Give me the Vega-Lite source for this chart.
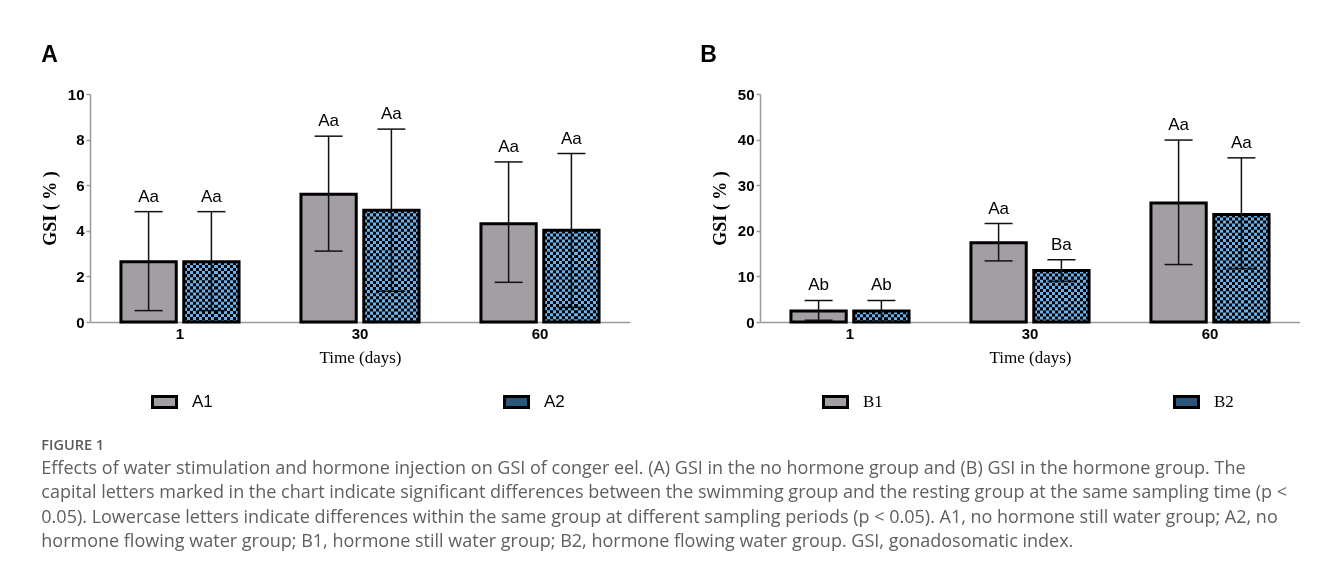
{
  "$schema": "https://vega.github.io/schema/vega-lite/v6.json",
  "background": "white",
  "padding": {"left": 41, "top": 44, "right": 0, "bottom": 0},
  "datasets": {
    "a": [
      {"day": "1", "group": "A1", "mean": 2.64, "lower": 0.5, "upper": 4.84, "label": "Aa"},
      {"day": "1", "group": "A2", "mean": 2.64, "lower": 0.5, "upper": 4.84, "label": "Aa"},
      {"day": "30", "group": "A1", "mean": 5.6, "lower": 3.11, "upper": 8.15, "label": "Aa"},
      {"day": "30", "group": "A2", "mean": 4.9, "lower": 1.35, "upper": 8.46, "label": "Aa"},
      {"day": "60", "group": "A1", "mean": 4.31, "lower": 1.74, "upper": 7.02, "label": "Aa"},
      {"day": "60", "group": "A2", "mean": 4.02, "lower": 0.64, "upper": 7.39, "label": "Aa"}
    ],
    "b": [
      {"day": "1", "group": "B1", "mean": 2.4, "lower": 0.36, "upper": 4.74, "label": "Ab"},
      {"day": "1", "group": "B2", "mean": 2.4, "lower": 0.1, "upper": 4.74, "label": "Ab"},
      {"day": "30", "group": "B1", "mean": 17.4, "lower": 13.4, "upper": 21.6, "label": "Aa"},
      {"day": "30", "group": "B2", "mean": 11.3, "lower": 8.95, "upper": 13.65, "label": "Ba"},
      {"day": "60", "group": "B1", "mean": 26.1, "lower": 12.6, "upper": 39.9, "label": "Aa"},
      {"day": "60", "group": "B2", "mean": 23.6, "lower": 11.7, "upper": 36.0, "label": "Aa"}
    ]
  },
  "title": {
    "text": "FIGURE 1",
    "orient": "bottom",
    "anchor": "start",
    "frame": "bounds",
    "offset": 25,
    "font": "Open Sans",
    "fontSize": 14.5,
    "fontWeight": 600,
    "color": "#5a5a5a",
    "subtitle": [
      "Effects of water stimulation and hormone injection on GSI of conger eel. (A) GSI in the no hormone group and (B) GSI in the hormone group. The",
      "capital letters marked in the chart indicate significant differences between the swimming group and the resting group at the same sampling time (p <",
      "0.05). Lowercase letters indicate differences within the same group at different sampling periods (p < 0.05). A1, no hormone still water group; A2, no",
      "hormone flowing water group; B1, hormone still water group; B2, hormone flowing water group. GSI, gonadosomatic index."
    ],
    "subtitleFont": "Open Sans",
    "subtitleFontSize": 18,
    "subtitleColor": "#5f5f5f",
    "subtitleLineHeight": 24.5,
    "subtitlePadding": 6
  },
  "spacing": 70,
  "resolve": {"scale": {"xOffset": "independent", "fill": "independent"}, "legend": {"fill": "independent"}},
  "config": {
    "view": {"stroke": null},
    "axisY": {
      "domainColor": "#9a9a9a", "domainWidth": 1.5, "tickColor": "#9a9a9a", "tickSize": 4, "tickWidth": 1.5,
      "labelFont": "Liberation Sans", "labelFontWeight": "bold", "labelFontSize": 15, "labelColor": "black", "labelPadding": 2,
      "grid": false, "titleFont": "Liberation Serif", "titleFontWeight": "bold", "titleFontSize": 18, "titleColor": "black", "titlePadding": 8
    },
    "axisX": {
      "domainColor": "#9a9a9a", "domainWidth": 1.5, "ticks": false, "labelAngle": 0,
      "labelFont": "Liberation Sans", "labelFontWeight": "bold", "labelFontSize": 15, "labelColor": "black", "labelPadding": 4,
      "grid": false, "titleFont": "Liberation Serif", "titleFontWeight": "normal", "titleFontSize": 17, "titleColor": "black", "titlePadding": 8
    },
    "legend": {
      "orient": "none", "direction": "horizontal", "title": null, "legendX": 61, "legendY": 294,
      "symbolType": "M-1,-0.46L1,-0.46L1,0.46L-1,0.46Z", "symbolSize": 576,
      "symbolStrokeColor": "black", "symbolStrokeWidth": 3, "symbolOpacity": 1,
      "labelFontSize": 17, "labelColor": "black", "labelOffset": 14, "columnPadding": 285
    }
  },
  "hconcat": [
    {
      "width": 540, "height": 228,
      "title": {"text": "A", "anchor": "start", "frame": "bounds", "font": "Liberation Sans", "fontSize": 23, "fontWeight": "bold", "color": "black", "offset": 20},
      "data": {"name": "a"},
      "encoding": {
        "x": {"field": "day", "type": "nominal", "sort": ["1", "30", "60"], "title": "Time (days)", "scale": {"paddingInner": 0.344, "paddingOuter": 0.172}},
        "xOffset": {"field": "group", "type": "nominal", "scale": {"paddingInner": 0.12, "paddingOuter": 0}}
      },
      "layer": [
        {
          "mark": {"type": "bar"},
          "encoding": {
            "y": {"field": "mean", "type": "quantitative", "title": "GSI ( % )", "scale": {"domain": [0, 10]}, "axis": {"values": [0, 2, 4, 6, 8, 10]}},
            "fill": {
              "field": "group", "type": "nominal",
              "scale": {"domain": ["A1", "A2"], "range": ["#a39ea4", "#2b5679"]},
              "legend": {"labelFont": "Liberation Sans"}
            }
          }
        },
        {
          "transform": [{"filter": "datum.group == 'A2'"}],
          "mark": {"type": "bar", "fill": {"gradient": "linear", "x1": 0, "y1": 0, "x2": 1, "y2": 0, "stops": [
                {"offset": 0, "color": "#6bb0e8"}, {"offset": 0.0556, "color": "#6bb0e8"},
                {"offset": 0.0556, "color": "#000000"}, {"offset": 0.1111, "color": "#000000"},
                {"offset": 0.1111, "color": "#6bb0e8"}, {"offset": 0.1667, "color": "#6bb0e8"},
                {"offset": 0.1667, "color": "#000000"}, {"offset": 0.2222, "color": "#000000"},
                {"offset": 0.2222, "color": "#6bb0e8"}, {"offset": 0.2778, "color": "#6bb0e8"},
                {"offset": 0.2778, "color": "#000000"}, {"offset": 0.3333, "color": "#000000"},
                {"offset": 0.3333, "color": "#6bb0e8"}, {"offset": 0.3889, "color": "#6bb0e8"},
                {"offset": 0.3889, "color": "#000000"}, {"offset": 0.4444, "color": "#000000"},
                {"offset": 0.4444, "color": "#6bb0e8"}, {"offset": 0.5, "color": "#6bb0e8"},
                {"offset": 0.5, "color": "#000000"}, {"offset": 0.5556, "color": "#000000"},
                {"offset": 0.5556, "color": "#6bb0e8"}, {"offset": 0.6111, "color": "#6bb0e8"},
                {"offset": 0.6111, "color": "#000000"}, {"offset": 0.6667, "color": "#000000"},
                {"offset": 0.6667, "color": "#6bb0e8"}, {"offset": 0.7222, "color": "#6bb0e8"},
                {"offset": 0.7222, "color": "#000000"}, {"offset": 0.7778, "color": "#000000"},
                {"offset": 0.7778, "color": "#6bb0e8"}, {"offset": 0.8333, "color": "#6bb0e8"},
                {"offset": 0.8333, "color": "#000000"}, {"offset": 0.8889, "color": "#000000"},
                {"offset": 0.8889, "color": "#6bb0e8"}, {"offset": 0.9444, "color": "#6bb0e8"},
                {"offset": 0.9444, "color": "#000000"}, {"offset": 1, "color": "#000000"}
              ]}},
          "encoding": {"y": {"field": "mean", "type": "quantitative", "title": "GSI ( % )"}}
        },
        {
          "transform": [{"filter": "datum.group == 'A2'"}],
          "mark": {"type": "rule", "strokeWidth": 54, "strokeDash": [3.07, 3.07], "color": "#6bb0e8", "blend": "difference"},
          "encoding": {
            "y": {"field": "mean", "type": "quantitative", "title": "GSI ( % )"},
            "y2": {"datum": 0}
          }
        },
        {
          "mark": {"type": "bar", "fillOpacity": 0, "stroke": "black", "strokeWidth": 3},
          "encoding": {"y": {"field": "mean", "type": "quantitative", "title": "GSI ( % )"}}
        },
        {
          "mark": {"type": "rule", "color": "#111111", "strokeWidth": 1.5},
          "encoding": {"y": {"field": "lower", "type": "quantitative", "title": "GSI ( % )"}, "y2": {"field": "upper"}}
        },
        {
          "mark": {"type": "tick", "orient": "horizontal", "size": 28, "thickness": 1.5, "color": "#111111", "opacity": 1},
          "encoding": {"y": {"field": "upper", "type": "quantitative", "title": "GSI ( % )"}}
        },
        {
          "mark": {"type": "tick", "orient": "horizontal", "size": 28, "thickness": 1.5, "color": "#111111", "opacity": 1},
          "encoding": {"y": {"field": "lower", "type": "quantitative", "title": "GSI ( % )"}}
        },
        {
          "mark": {"type": "text", "dy": -6, "baseline": "bottom", "font": "Liberation Sans", "fontSize": 17, "color": "black"},
          "encoding": {"y": {"field": "upper", "type": "quantitative", "title": "GSI ( % )"}, "text": {"field": "label"}}
        }
      ]
    },
    {
      "width": 540, "height": 228,
      "title": {"text": "B", "anchor": "start", "frame": "bounds", "font": "Liberation Sans", "fontSize": 23, "fontWeight": "bold", "color": "black", "offset": 20, "dx": -11},
      "data": {"name": "b"},
      "encoding": {
        "x": {"field": "day", "type": "nominal", "sort": ["1", "30", "60"], "title": "Time (days)", "scale": {"paddingInner": 0.344, "paddingOuter": 0.172}},
        "xOffset": {"field": "group", "type": "nominal", "scale": {"paddingInner": 0.12, "paddingOuter": 0}}
      },
      "layer": [
        {
          "mark": {"type": "bar"},
          "encoding": {
            "y": {"field": "mean", "type": "quantitative", "title": "GSI ( % )", "scale": {"domain": [0, 50]}, "axis": {"values": [0, 10, 20, 30, 40, 50]}},
            "fill": {
              "field": "group", "type": "nominal",
              "scale": {"domain": ["B1", "B2"], "range": ["#a39ea4", "#2b5679"]},
              "legend": {"labelFont": "Liberation Serif", "legendX": 62}
            }
          }
        },
        {
          "transform": [{"filter": "datum.group == 'B2'"}],
          "mark": {"type": "bar", "fill": {"gradient": "linear", "x1": 0, "y1": 0, "x2": 1, "y2": 0, "stops": [
                {"offset": 0, "color": "#6bb0e8"}, {"offset": 0.0556, "color": "#6bb0e8"},
                {"offset": 0.0556, "color": "#000000"}, {"offset": 0.1111, "color": "#000000"},
                {"offset": 0.1111, "color": "#6bb0e8"}, {"offset": 0.1667, "color": "#6bb0e8"},
                {"offset": 0.1667, "color": "#000000"}, {"offset": 0.2222, "color": "#000000"},
                {"offset": 0.2222, "color": "#6bb0e8"}, {"offset": 0.2778, "color": "#6bb0e8"},
                {"offset": 0.2778, "color": "#000000"}, {"offset": 0.3333, "color": "#000000"},
                {"offset": 0.3333, "color": "#6bb0e8"}, {"offset": 0.3889, "color": "#6bb0e8"},
                {"offset": 0.3889, "color": "#000000"}, {"offset": 0.4444, "color": "#000000"},
                {"offset": 0.4444, "color": "#6bb0e8"}, {"offset": 0.5, "color": "#6bb0e8"},
                {"offset": 0.5, "color": "#000000"}, {"offset": 0.5556, "color": "#000000"},
                {"offset": 0.5556, "color": "#6bb0e8"}, {"offset": 0.6111, "color": "#6bb0e8"},
                {"offset": 0.6111, "color": "#000000"}, {"offset": 0.6667, "color": "#000000"},
                {"offset": 0.6667, "color": "#6bb0e8"}, {"offset": 0.7222, "color": "#6bb0e8"},
                {"offset": 0.7222, "color": "#000000"}, {"offset": 0.7778, "color": "#000000"},
                {"offset": 0.7778, "color": "#6bb0e8"}, {"offset": 0.8333, "color": "#6bb0e8"},
                {"offset": 0.8333, "color": "#000000"}, {"offset": 0.8889, "color": "#000000"},
                {"offset": 0.8889, "color": "#6bb0e8"}, {"offset": 0.9444, "color": "#6bb0e8"},
                {"offset": 0.9444, "color": "#000000"}, {"offset": 1, "color": "#000000"}
              ]}},
          "encoding": {"y": {"field": "mean", "type": "quantitative", "title": "GSI ( % )"}}
        },
        {
          "transform": [{"filter": "datum.group == 'B2'"}],
          "mark": {"type": "rule", "strokeWidth": 54, "strokeDash": [3.07, 3.07], "color": "#6bb0e8", "blend": "difference"},
          "encoding": {
            "y": {"field": "mean", "type": "quantitative", "title": "GSI ( % )"},
            "y2": {"datum": 0}
          }
        },
        {
          "mark": {"type": "bar", "fillOpacity": 0, "stroke": "black", "strokeWidth": 3},
          "encoding": {"y": {"field": "mean", "type": "quantitative", "title": "GSI ( % )"}}
        },
        {
          "mark": {"type": "rule", "color": "#111111", "strokeWidth": 1.5},
          "encoding": {"y": {"field": "lower", "type": "quantitative", "title": "GSI ( % )"}, "y2": {"field": "upper"}}
        },
        {
          "mark": {"type": "tick", "orient": "horizontal", "size": 28, "thickness": 1.5, "color": "#111111", "opacity": 1},
          "encoding": {"y": {"field": "upper", "type": "quantitative", "title": "GSI ( % )"}}
        },
        {
          "mark": {"type": "tick", "orient": "horizontal", "size": 28, "thickness": 1.5, "color": "#111111", "opacity": 1},
          "encoding": {"y": {"field": "lower", "type": "quantitative", "title": "GSI ( % )"}}
        },
        {
          "mark": {"type": "text", "dy": -6, "baseline": "bottom", "font": "Liberation Sans", "fontSize": 17, "color": "black"},
          "encoding": {"y": {"field": "upper", "type": "quantitative", "title": "GSI ( % )"}, "text": {"field": "label"}}
        }
      ]
    }
  ]
}
